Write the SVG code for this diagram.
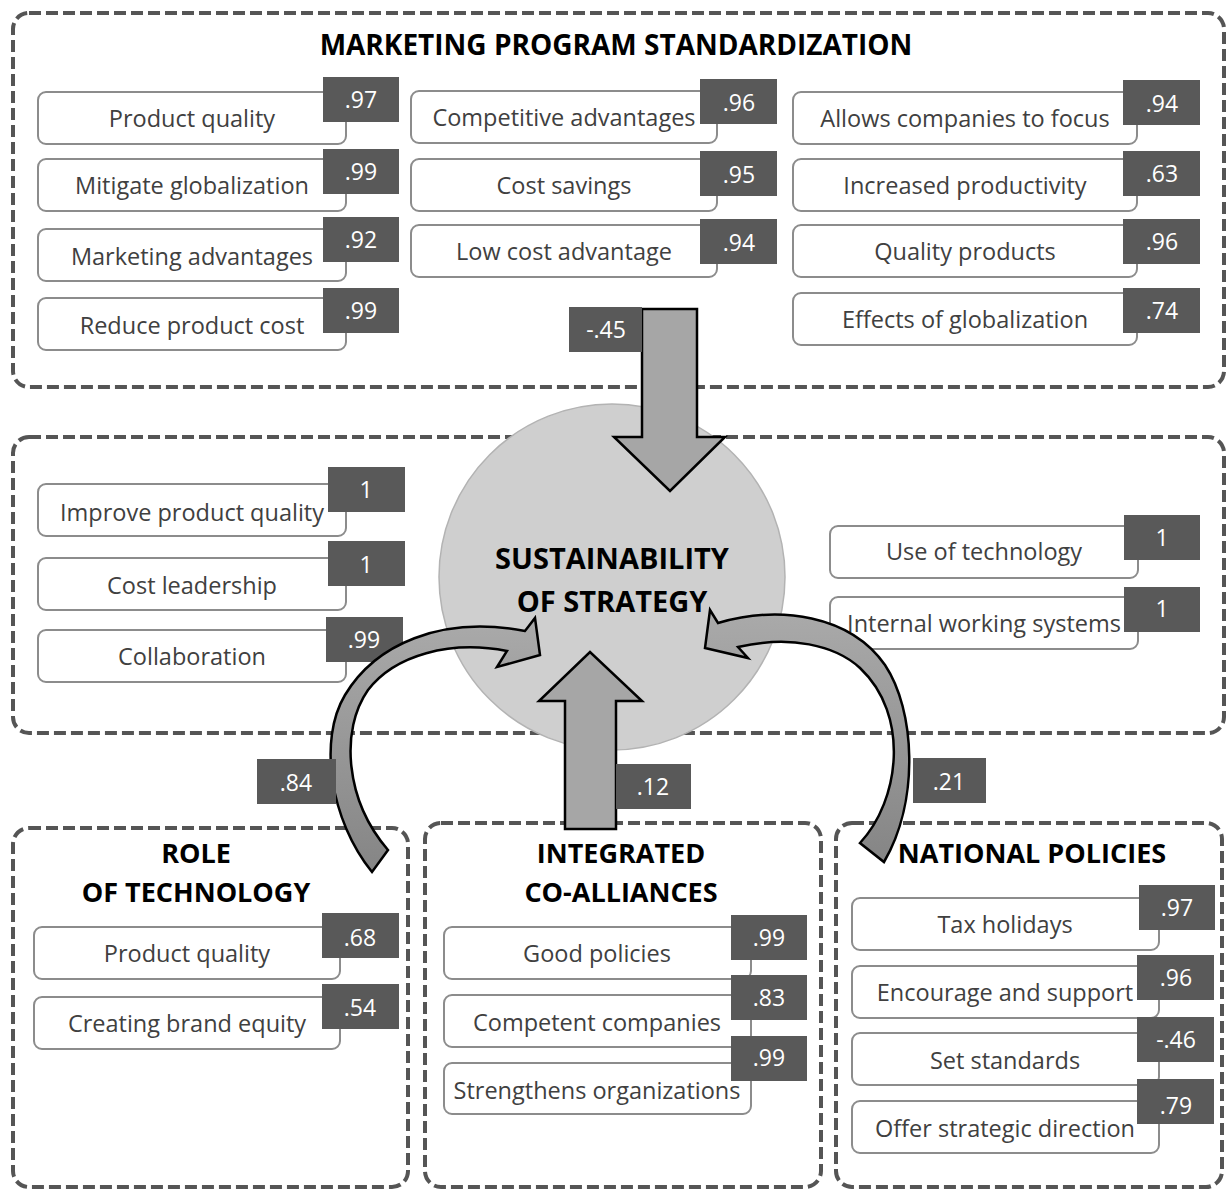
<svg xmlns="http://www.w3.org/2000/svg" width="1226" height="1191" viewBox="0 0 1226 1191">
<style>
.grp{fill:none;stroke:#555;stroke-width:4;stroke-dasharray:12 5}
.item rect.b{fill:#fff;stroke:#8c8c8c;stroke-width:2}
.item rect.v{fill:#595959}
.t{font-family:"Open Sans","Liberation Sans",sans-serif;font-size:23.5px;fill:#404040;text-anchor:middle}
.vt{font-family:"Open Sans","Liberation Sans",sans-serif;font-size:23px;fill:#fff;text-anchor:middle}
.h{font-family:"Open Sans","Liberation Sans",sans-serif;font-weight:bold;font-size:27px;fill:#000;text-anchor:middle}
.arr{fill:#a6a6a6;stroke:#000;stroke-width:2.5;stroke-linejoin:miter}
.lbl{fill:#595959}
</style>
<defs>
<linearGradient id="cg" x1="0" y1="0" x2="0" y2="1">
<stop offset="0" stop-color="#aaaaaa"/>
<stop offset="1" stop-color="#858585"/>
</linearGradient>
</defs>
<rect width="1226" height="1191" fill="#fff"/>

<!-- group frames -->
<g id="frame-mps"><rect class="grp" x="13" y="13" width="1211" height="374" rx="16"/>
<text class="h" x="616" y="55" style="font-size:28px">MARKETING PROGRAM STANDARDIZATION</text></g>
<g id="frame-sos"><rect class="grp" x="13" y="437" width="1211" height="296" rx="16"/></g>
<g id="frame-rot"><rect class="grp" x="13" y="828" width="395" height="359" rx="16"/>
<text class="h" x="196" y="863">ROLE</text><text class="h" x="196" y="902">OF TECHNOLOGY</text></g>
<g id="frame-ica"><rect class="grp" x="425" y="823" width="396" height="364" rx="16"/>
<text class="h" x="621" y="863">INTEGRATED</text><text class="h" x="621" y="902">CO-ALLIANCES</text></g>
<g id="frame-np"><rect class="grp" x="836" y="823" width="386" height="364" rx="16"/>
<text class="h" x="1032" y="863">NATIONAL POLICIES</text></g>

<!-- top items col 1 -->
<g id="n-product-quality" class="item"><rect class="b" x="38" y="92" width="308" height="52" rx="8"/><text class="t" x="192" y="127">Product quality</text><rect class="v" x="323" y="77" width="76" height="45"/><text class="vt" x="361" y="108">.97</text></g>
<g id="n-mitigate" class="item"><rect class="b" x="38" y="159" width="308" height="52" rx="8"/><text class="t" x="192" y="194">Mitigate globalization</text><rect class="v" x="323" y="149" width="76" height="45"/><text class="vt" x="361" y="180">.99</text></g>
<g id="n-marketing-adv" class="item"><rect class="b" x="38" y="229" width="308" height="52" rx="8"/><text class="t" x="192" y="265">Marketing advantages</text><rect class="v" x="323" y="217" width="76" height="45"/><text class="vt" x="361" y="248">.92</text></g>
<g id="n-reduce-cost" class="item"><rect class="b" x="38" y="298" width="308" height="52" rx="8"/><text class="t" x="192" y="334">Reduce product cost</text><rect class="v" x="323" y="288" width="76" height="45"/><text class="vt" x="361" y="319">.99</text></g>
<!-- top items col 2 -->
<g id="n-competitive" class="item"><rect class="b" x="411" y="91" width="306" height="52" rx="8"/><text class="t" x="564" y="126">Competitive advantages</text><rect class="v" x="700" y="79" width="77" height="45"/><text class="vt" x="739" y="111">.96</text></g>
<g id="n-cost-savings" class="item"><rect class="b" x="411" y="159" width="306" height="52" rx="8"/><text class="t" x="564" y="194">Cost savings</text><rect class="v" x="700" y="151" width="77" height="45"/><text class="vt" x="739" y="183">.95</text></g>
<g id="n-low-cost" class="item"><rect class="b" x="411" y="225" width="306" height="52" rx="8"/><text class="t" x="564" y="260">Low cost advantage</text><rect class="v" x="700" y="219" width="77" height="45"/><text class="vt" x="739" y="251">.94</text></g>
<!-- top items col 3 -->
<g id="n-allows-focus" class="item"><rect class="b" x="793" y="92" width="344" height="52" rx="8"/><text class="t" x="965" y="127">Allows companies to focus</text><rect class="v" x="1123" y="80" width="77" height="45"/><text class="vt" x="1162" y="112">.94</text></g>
<g id="n-productivity" class="item"><rect class="b" x="793" y="159" width="344" height="52" rx="8"/><text class="t" x="965" y="194">Increased productivity</text><rect class="v" x="1123" y="151" width="77" height="45"/><text class="vt" x="1162" y="182">.63</text></g>
<g id="n-quality-products" class="item"><rect class="b" x="793" y="225" width="344" height="52" rx="8"/><text class="t" x="965" y="260">Quality products</text><rect class="v" x="1123" y="219" width="77" height="45"/><text class="vt" x="1162" y="250">.96</text></g>
<g id="n-effects-glob" class="item"><rect class="b" x="793" y="293" width="344" height="52" rx="8"/><text class="t" x="965" y="328">Effects of globalization</text><rect class="v" x="1123" y="288" width="77" height="45"/><text class="vt" x="1162" y="319">.74</text></g>

<!-- middle items -->
<g id="n-improve-quality" class="item"><rect class="b" x="38" y="484" width="308" height="52" rx="8"/><text class="t" x="192" y="521">Improve product quality</text><rect class="v" x="328" y="467" width="77" height="45"/><text class="vt" x="366" y="498">1</text></g>
<g id="n-cost-leadership" class="item"><rect class="b" x="38" y="558" width="308" height="52" rx="8"/><text class="t" x="192" y="594">Cost leadership</text><rect class="v" x="328" y="541" width="77" height="45"/><text class="vt" x="366" y="573">1</text></g>
<g id="n-collaboration" class="item"><rect class="b" x="38" y="630" width="308" height="52" rx="8"/><text class="t" x="192" y="665">Collaboration</text><rect class="v" x="326" y="617" width="77" height="45"/><text class="vt" x="364" y="648">.99</text></g>
<g id="n-use-tech" class="item"><rect class="b" x="830" y="526" width="308" height="52" rx="8"/><text class="t" x="984" y="560">Use of technology</text><rect class="v" x="1124" y="515" width="76" height="45"/><text class="vt" x="1162" y="546">1</text></g>
<g id="n-internal" class="item"><rect class="b" x="830" y="597" width="308" height="52" rx="8"/><text class="t" x="984" y="632">Internal working systems</text><rect class="v" x="1124" y="587" width="76" height="45"/><text class="vt" x="1162" y="617">1</text></g>

<!-- central node -->
<g id="n-sustainability"><circle cx="612" cy="577" r="173" fill="#cfcfcf" stroke="#b3b3b3" stroke-width="1.5"/>
<text class="h" x="612" y="569" style="font-size:29px">SUSTAINABILITY</text><text class="h" x="612" y="612" style="font-size:29px">OF STRATEGY</text></g>

<!-- bottom items -->
<g id="n-rot-quality" class="item"><rect class="b" x="34" y="927" width="306" height="52" rx="8"/><text class="t" x="187" y="962">Product quality</text><rect class="v" x="322" y="913" width="77" height="45"/><text class="vt" x="360" y="946">.68</text></g>
<g id="n-brand-equity" class="item"><rect class="b" x="34" y="997" width="306" height="52" rx="8"/><text class="t" x="187" y="1032">Creating brand equity</text><rect class="v" x="322" y="984" width="77" height="45"/><text class="vt" x="360" y="1016">.54</text></g>
<g id="n-good-policies" class="item"><rect class="b" x="444" y="927" width="307" height="52" rx="8"/><text class="t" x="597" y="962">Good policies</text><rect class="v" x="731" y="915" width="76" height="45"/><text class="vt" x="769" y="946">.99</text></g>
<g id="n-competent" class="item"><rect class="b" x="444" y="995" width="307" height="52" rx="8"/><text class="t" x="597" y="1031">Competent companies</text><rect class="v" x="731" y="975" width="76" height="45"/><text class="vt" x="769" y="1006">.83</text></g>
<g id="n-strengthens" class="item"><rect class="b" x="444" y="1063" width="307" height="51" rx="8"/><text class="t" x="597" y="1099">Strengthens organizations</text><rect class="v" x="731" y="1036" width="76" height="45"/><text class="vt" x="769" y="1066">.99</text></g>
<g id="n-tax" class="item"><rect class="b" x="852" y="898" width="307" height="52" rx="8"/><text class="t" x="1005" y="933">Tax holidays</text><rect class="v" x="1139" y="885" width="76" height="45"/><text class="vt" x="1177" y="916">.97</text></g>
<g id="n-encourage" class="item"><rect class="b" x="852" y="966" width="307" height="52" rx="8"/><text class="t" x="1005" y="1001">Encourage and support</text><rect class="v" x="1137" y="955" width="77" height="45"/><text class="vt" x="1176" y="986">.96</text></g>
<g id="n-standards" class="item"><rect class="b" x="852" y="1033" width="307" height="52" rx="8"/><text class="t" x="1005" y="1069">Set standards</text><rect class="v" x="1137" y="1017" width="77" height="45"/><text class="vt" x="1176" y="1048">-.46</text></g>
<g id="n-direction" class="item"><rect class="b" x="852" y="1101" width="307" height="52" rx="8"/><text class="t" x="1005" y="1137">Offer strategic direction</text><rect class="v" x="1137" y="1079" width="77" height="45"/><text class="vt" x="1176" y="1114">.79</text></g>

<!-- connectors -->
<g id="connectors">
<path class="arr" d="M642,309 L697,309 L697,437 L725,437 L670,491 L614,437 L642,437 Z"/>
<rect class="lbl" x="569" y="307" width="73" height="45"/><text class="vt" x="606" y="338">-.45</text>
<path class="arr" d="M565,829 L565,701 L539,701 L590,652 L642,701 L616,701 L616,829 Z"/>
<rect class="lbl" x="616" y="764" width="75" height="45"/><text class="vt" x="653" y="795">.12</text>
<path class="arr" style="fill:url(#cg)" d="M372,872 C330,820 318,740 345,695 C375,645 440,615 525,631 L535,618 L540,655 L497,667 L507,651 C450,640 395,655 368,690 C340,730 345,800 388,850 Z"/>
<rect class="lbl" x="257" y="759" width="79" height="45"/><text class="vt" x="296" y="791">.84</text>
<path class="arr" style="fill:url(#cg)" d="M860,843 C900,800 910,715 860,668 C835,645 790,635 738,647 L748,658 L705,648 L710,610 L718,623 C780,605 850,615 885,665 C915,710 920,800 884,862 Z"/>
<rect class="lbl" x="913" y="758" width="73" height="45"/><text class="vt" x="949" y="790">.21</text>
</g>
</svg>
